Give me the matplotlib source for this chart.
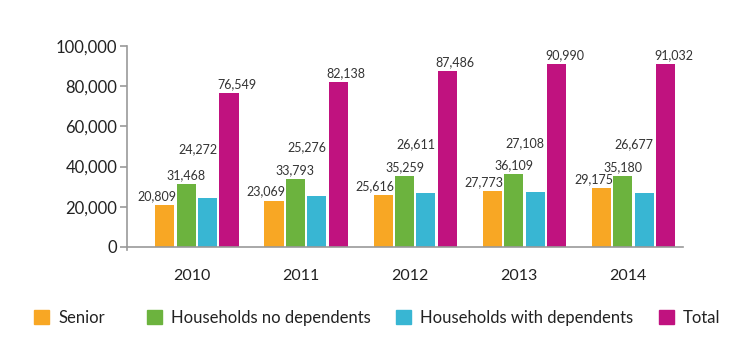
import numpy as np
import matplotlib
matplotlib.use("Agg")
import matplotlib.pyplot as plt
from matplotlib.patches import Patch
from matplotlib.ticker import FuncFormatter

# data
years = ["2010", "2011", "2012", "2013", "2014"]
senior = [20809, 23069, 25616, 27773, 29175]
no_dep = [31468, 33793, 35259, 36109, 35180]
with_dep = [24272, 25276, 26611, 27108, 26677]
total = [76549, 82138, 87486, 90990, 91032]

series_names = ["Senior", "Households no dependents", "Households with dependents", "Total"]
colors = ["#F8A724", "#6CB33E", "#38B6D3", "#C0127F"]

plt.rcParams["font.family"] = ["Lato", "DejaVu Sans"]

fig = plt.figure(figsize=(7.36, 3.58), dpi=100)
ax = fig.add_axes([0.1726, 0.3017, 0.755, 0.5698])

x = np.arange(len(years))
width = 0.175
pitch = 0.196
all_series = [senior, no_dep, with_dep, total]

# label offsets (pixels) relative to bar centre / bar top
lab_dx = [-8, 0, -10, 8]
lab_dy = [3, 3, 49, 3]
lab_va = ["bottom", "bottom", "center", "bottom"]

for k, (vals, col) in enumerate(zip(all_series, colors)):
    xs = x + (k - 1.5) * pitch
    ax.bar(xs, vals, width, color=col)
    for xi, v in zip(xs, vals):
        ax.annotate(f"{v:,}", (xi, v), xytext=(lab_dx[k], lab_dy[k]),
                    textcoords="offset pixels", ha="center", va=lab_va[k],
                    fontsize=9, color="#333333")

ax.set_ylim(-1500, 100000)
ax.set_xlim(-0.64, 4.45)
ax.set_yticks(np.arange(0, 100001, 20000))
ax.yaxis.set_major_formatter(FuncFormatter(lambda v, p: f"{int(v):,}"))
ax.set_xticks(x - 0.05)
ax.set_xticklabels(years)

for s in ["top", "right"]:
    ax.spines[s].set_visible(False)
ax.spines["bottom"].set_position(("data", 0))
for s in ["left", "bottom"]:
    ax.spines[s].set_color("#999999")
    ax.spines[s].set_linewidth(1.2)
ax.tick_params(axis="y", colors="#999999", labelcolor="#222222", labelsize=12,
               length=5, width=1.2, pad=2)
ax.tick_params(axis="x", length=0, labelsize=11.5, labelcolor="#222222", pad=16)

# legend entries placed individually, as in the original layout
leg_x = [34, 147, 396, 659]
for name, col, lx in zip(series_names, colors, leg_x):
    leg = fig.legend(handles=[Patch(color=col, label=name)], loc="center left",
                     bbox_to_anchor=(lx / 736, 1 - 318 / 358), frameon=False,
                     fontsize=12, handlelength=0.9, handleheight=0.9,
                     handletextpad=0.55, borderpad=0, borderaxespad=0)
    for t in leg.get_texts():
        t.set_color("#222222")

fig.savefig("out.png", dpi=100)
